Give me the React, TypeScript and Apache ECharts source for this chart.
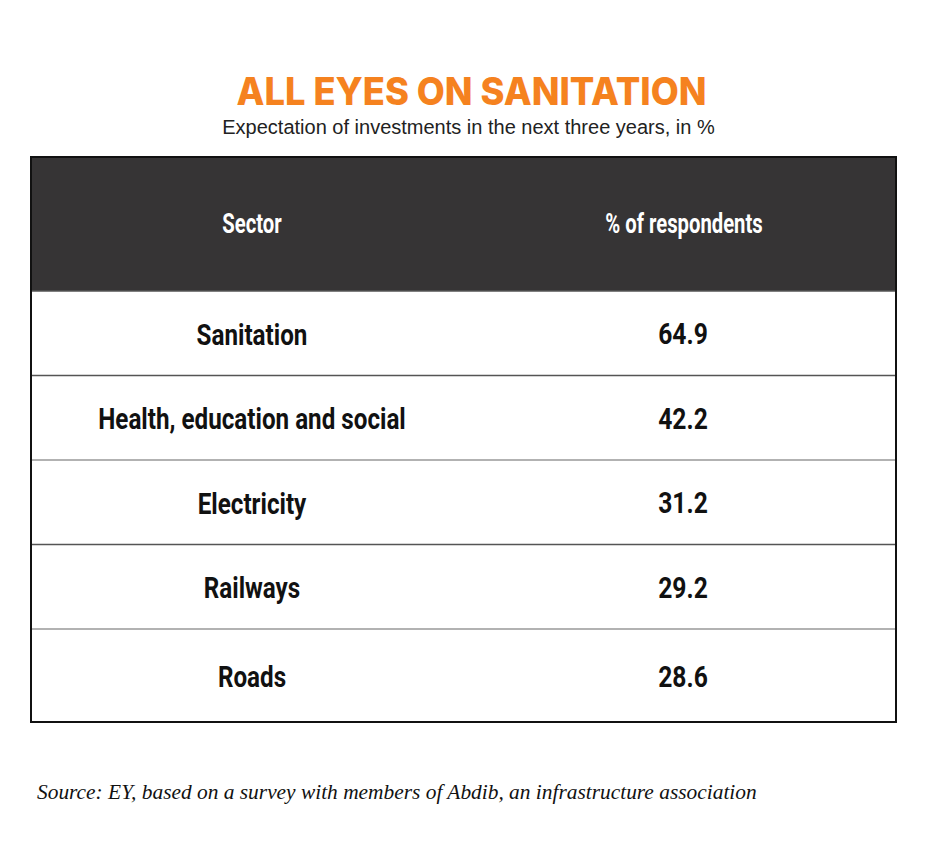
import React, { useEffect, useRef } from "react";
import * as echarts from "echarts";

const title = "ALL EYES ON SANITATION";
const subtitle = "Expectation of investments in the next three years, in %";
const headers = ["Sector", "% of respondents"];
const sectors = ["Sanitation", "Health, education and social", "Electricity", "Railways", "Roads"];
const values = [64.9, 42.2, 31.2, 29.2, 28.6];
const source = "Source: EY, based on a survey with members of Abdib, an infrastructure association";

export default function App() {
  const ref = useRef<HTMLDivElement>(null);
  useEffect(() => {
    if (!ref.current) return;
    const chart = echarts.init(ref.current, null, { renderer: "svg" });
    const L = 31, R = 896, T = 157, HB = 291, B = 722;
    const rowH = 84.5;
    const c1 = 252, c2 = 684;
    const bodyFont = "Roboto";
    const els: any[] = [];
    els.push({ type: "rect", shape: { x: 0, y: 0, width: 937, height: 850 }, style: { fill: "#fff" }, silent: true });
    els.push({ type: "rect", shape: { x: L, y: T, width: R - L, height: HB - T }, style: { fill: "#363435" } });
    const mkText = (txt: string, x: number, y: number, size: number, color: string, sx: number, weight: any = "bold") => ({
      type: "text", x, y, scaleX: sx,
      style: { text: txt, x: 0, y: 0, textAlign: "center", textVerticalAlign: "middle", fontFamily: bodyFont, fontWeight: weight, fontSize: size, fill: color },
    });
    els.push(mkText(headers[0], c1, 224, 27, "#ffffff", 0.75));
    els.push(mkText(headers[1], c2, 224, 27, "#ffffff", 0.75));
    sectors.forEach((s, i) => {
      const top = HB + i * rowH;
      const bot = i === sectors.length - 1 ? B : HB + (i + 1) * rowH;
      const cy = (top + bot) / 2 + 1.5;
      if (i > 0) {
        els.push({ type: "line", shape: { x1: L, y1: top, x2: R, y2: top }, style: { stroke: i % 2 === 0 ? "#999" : "#555", lineWidth: 1.5 } });
      }
      els.push(mkText(s, c1, cy, 29, "#111", 0.835));
      els.push(mkText(values[i].toFixed(1), c2 - 1, cy, 29, "#111", 0.85));
    });
    els.push({ type: "line", shape: { x1: L, y1: HB, x2: R, y2: HB }, style: { stroke: "#555", lineWidth: 1.5 } });
    els.push({ type: "rect", shape: { x: L, y: T, width: R - L, height: B - T }, style: { fill: "none", stroke: "#111", lineWidth: 2 } });
    els.push({
      type: "text", x: 471.5, y: 91, scaleX: 0.955,
      style: { text: title, x: 0, y: 0, textAlign: "center", textVerticalAlign: "middle", fontFamily: "Inter", fontWeight: 800, fontSize: 38, fill: "#F5821F" },
    });
    els.push({
      type: "text", x: 468.5, y: 127,
      style: { text: subtitle, x: 0, y: 0, textAlign: "center", textVerticalAlign: "middle", fontFamily: "Liberation Sans", fontSize: 20, fill: "#222" },
    });
    els.push({
      type: "text", x: 37, y: 792, scaleX: 0.973,
      style: { text: source, x: 0, y: 0, textAlign: "left", textVerticalAlign: "middle", fontFamily: "Liberation Serif", fontStyle: "italic", fontSize: 22, fill: "#111" },
    });
    chart.setOption({ animation: false, graphic: { elements: els } });
    return () => chart.dispose();
  }, []);
  return <div ref={ref} style={{ position: "fixed", left: 0, top: 0, width: 937, height: 850, background: "#fff" }} />;
}
